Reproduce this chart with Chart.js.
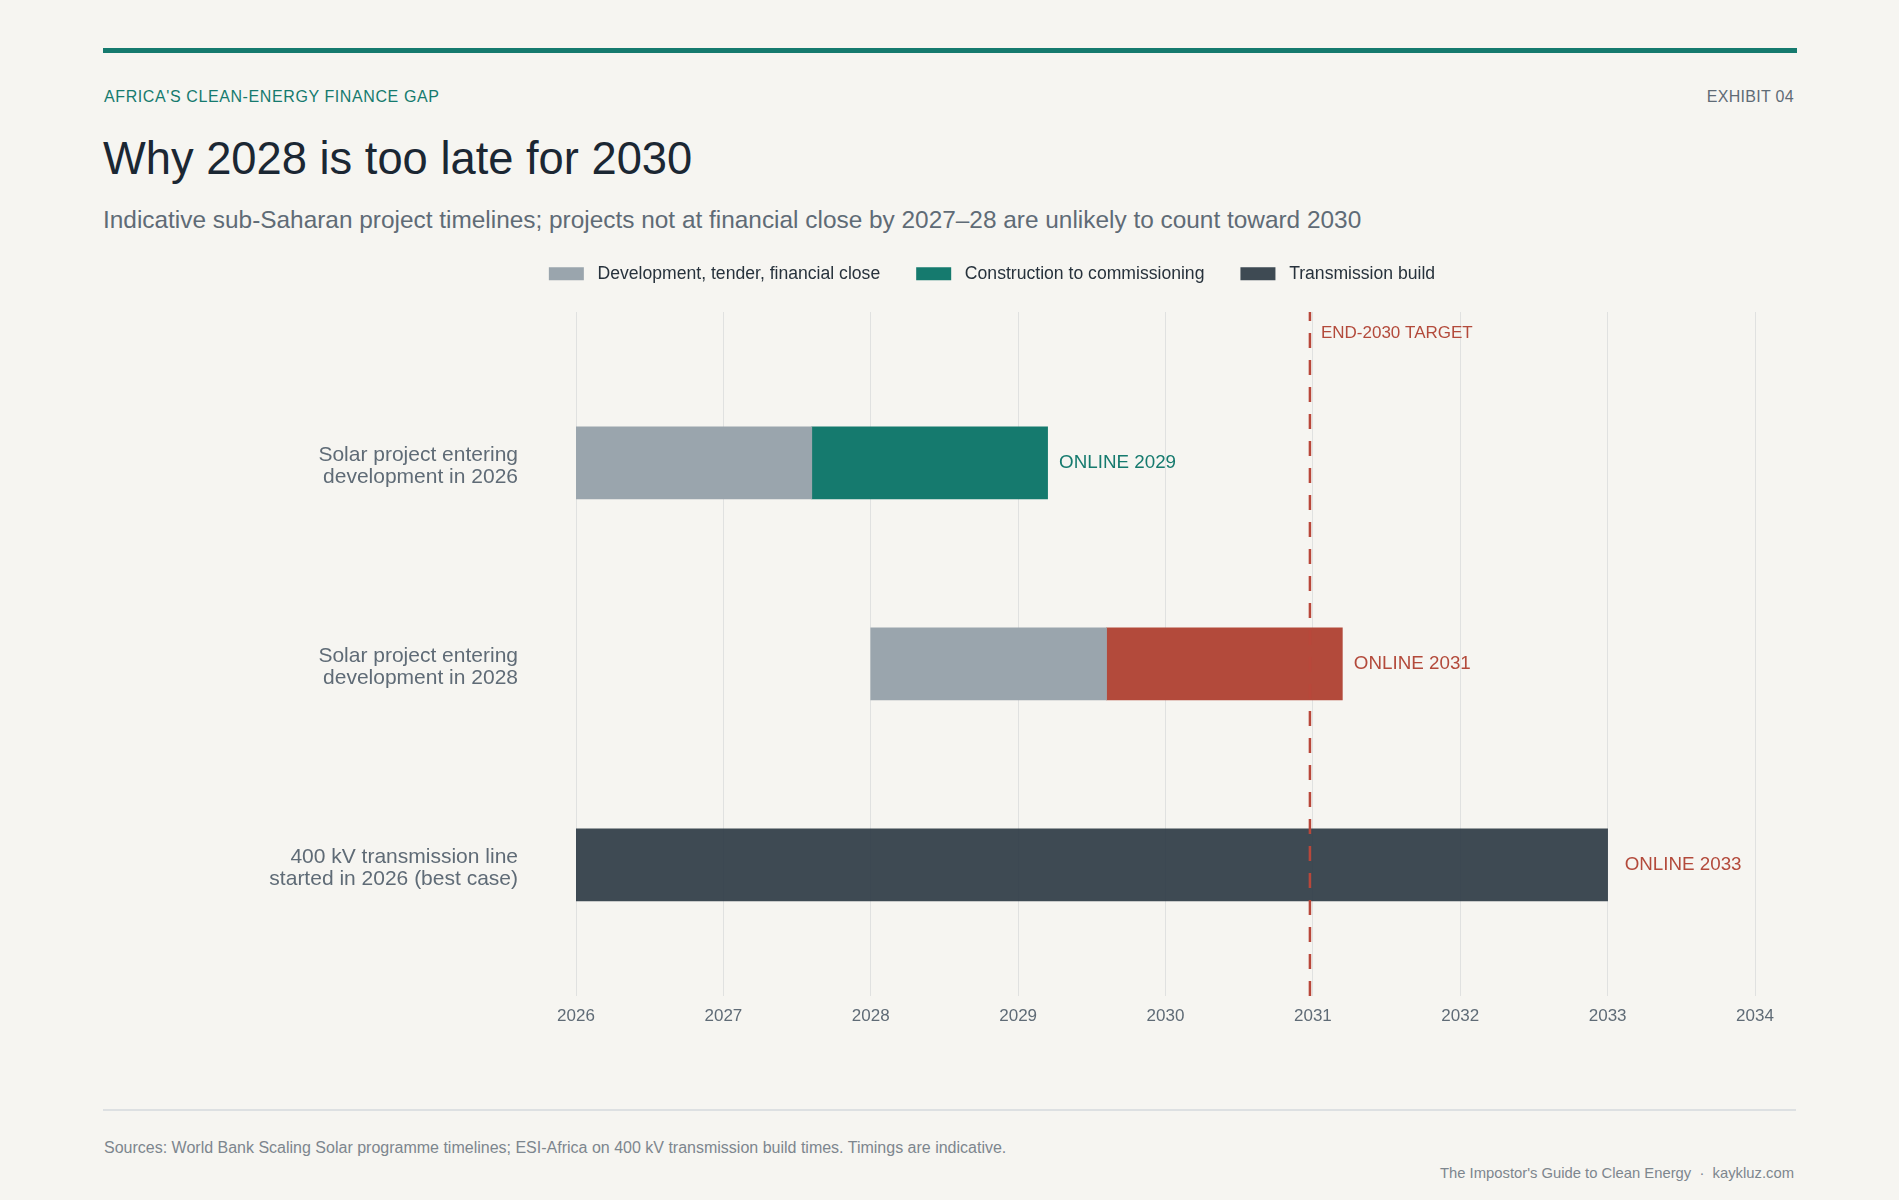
<!DOCTYPE html>
<html><head><meta charset="utf-8">
<script src="https://cdn.jsdelivr.net/npm/chart.js@4.4.1/dist/chart.umd.min.js"></script>
<style>
html,body{margin:0;padding:0;background:#f6f5f1;}
body{width:1899px;height:1200px;position:relative;overflow:hidden;font-family:'Liberation Sans',Arial,Helvetica,sans-serif;}
.abs{position:absolute;white-space:nowrap;line-height:1;}
#rule{position:absolute;left:103px;top:48px;width:1694px;height:5px;background:#157a6e;}
#kicker{left:104px;top:88.5px;font-size:16px;color:#157a6e;letter-spacing:0.6px;}
#exhibit{right:105px;top:88.5px;font-size:16px;color:#5f6b76;letter-spacing:0.3px;}
#title{left:103px;top:136px;font-size:45.3px;color:#1b2733;}
#subtitle{left:103px;top:207.6px;font-size:24.4px;color:#5f6b76;}
#chartbox{position:absolute;left:0;top:229px;width:1795px;height:807px;}
#divider{position:absolute;left:103px;top:1109px;width:1693px;height:1.5px;background:#dde0e2;}
#sources{left:104px;top:1139.5px;font-size:16px;color:#7d868e;}
#credit{right:105px;top:1166.3px;font-size:14.8px;color:#7d868e;white-space:pre;}
</style>
</head>
<body>
<div id="rule"></div>
<div id="kicker" class="abs">AFRICA'S CLEAN-ENERGY FINANCE GAP</div>
<div id="exhibit" class="abs">EXHIBIT 04</div>
<div id="title" class="abs">Why 2028 is too late for 2030</div>
<div id="subtitle" class="abs">Indicative sub-Saharan project timelines; projects not at financial close by 2027–28 are unlikely to count toward 2030</div>
<div id="chartbox"><canvas id="c"></canvas></div>
<div id="divider"></div>
<div id="sources" class="abs">Sources: World Bank Scaling Solar programme timelines; ESI-Africa on 400 kV transmission build times. Timings are indicative.</div>
<div id="credit" class="abs">The Impostor's Guide to Clean Energy  ·  kaykluz.com</div>
<script>
// ---- data ----
const categories = [
  ['Solar project entering', 'development in 2026'],
  ['Solar project entering', 'development in 2028'],
  ['400 kV transmission line', 'started in 2026 (best case)']
];
const seriesNames = ['Development, tender, financial close', 'Construction to commissioning', 'Transmission build'];
const devStart = [2026, 2028, null];
const devEnd = [2027.6, 2029.6, null];
const buildEnd = [2029.2, 2031.2, null];
const lineStart = [null, null, 2026];
const lineEnd = [null, null, 2033];
const onlineLabels = ['ONLINE 2029', 'ONLINE 2031', 'ONLINE 2033'];
const yearTicks = [2026, 2027, 2028, 2029, 2030, 2031, 2032, 2033, 2034];
const targetYear = 2030.98;
const targetLabel = 'END-2030 TARGET';

// ---- style ----
const FONT = "'Liberation Sans', Arial, Helvetica, sans-serif";
const GRAY = '#9aa5ad';
const TEAL = '#157a6e';
const RED = '#b34a3b';
const DARK = 'rgba(46,59,69,0.92)';
const RED_LINE = '#b8473a';
const LEGEND_GAP = 19.4;

Chart.defaults.font.family = FONT;

const devData = [], buildData = [], lineData = [];
categories.forEach((c, i) => {
  if (devStart[i] != null) devData.push({y: i, x: [devStart[i], devEnd[i]]});
  if (buildEnd[i] != null) buildData.push({y: i, x: [devEnd[i], buildEnd[i]]});
  if (lineStart[i] != null) lineData.push({y: i, x: [lineStart[i], lineEnd[i]]});
});

const legendGap = {
  id: 'legendGap',
  beforeLayout(chart) {
    const lg = chart.legend;
    if (lg && !lg._gapPatched) {
      const fit = lg.fit;
      lg.fit = function () { fit.call(this); this.height += LEGEND_GAP; };
      lg._gapPatched = true;
    }
  }
};

const overlay = {
  id: 'overlay',
  afterDatasetsDraw(chart) {
    const {ctx, chartArea, scales: {x, y}} = chart;
    const tx = x.getPixelForValue(targetYear);
    ctx.save();
    ctx.strokeStyle = RED_LINE;
    ctx.lineWidth = 2.5;
    ctx.setLineDash([15, 12]);
    ctx.beginPath();
    ctx.moveTo(tx, chartArea.bottom);
    ctx.lineTo(tx, chartArea.top);
    ctx.stroke();
    ctx.setLineDash([]);
    ctx.fillStyle = RED;
    ctx.font = '17px ' + FONT;
    ctx.textAlign = 'left';
    ctx.textBaseline = 'alphabetic';
    ctx.fillText(targetLabel, tx + 11, chartArea.top + 26);
    ctx.font = '18.8px ' + FONT;
    ctx.textBaseline = 'middle';
    categories.forEach((c, i) => {
      const ends = [buildEnd[i], lineEnd[i]].filter(v => v != null);
      const end = Math.max(...ends);
      ctx.fillStyle = end > targetYear ? RED : TEAL;
      const gap = lineEnd[i] != null ? 17 : 11.5;
      ctx.fillText(onlineLabels[i], x.getPixelForValue(end) + gap, y.getPixelForValue(i));
    });
    ctx.restore();
  }
};

new Chart(document.getElementById('c'), {
  type: 'bar',
  data: {
    datasets: [
      {label: seriesNames[0], data: devData, backgroundColor: GRAY},
      {label: seriesNames[1], data: buildData,
       backgroundColor: ctx => (ctx.raw && ctx.raw.x[1] > targetYear) ? RED : TEAL},
      {label: seriesNames[2], data: lineData, backgroundColor: DARK}
    ]
  },
  options: {
    indexAxis: 'y',
    responsive: true,
    maintainAspectRatio: false,
    animation: false,
    devicePixelRatio: 1,
    datasets: {bar: {grouped: false, barThickness: 72, maxBarThickness: 72, borderWidth: 0, borderSkipped: false}},
    layout: {padding: {left: 229, right: 40, top: 0, bottom: 0}},
    plugins: {
      legend: {
        position: 'top', align: 'center',
        labels: {
          boxWidth: 35, boxHeight: 13, padding: 36, color: '#27323c', font: {size: 17.6},
          generateLabels: chart => Chart.defaults.plugins.legend.labels.generateLabels(chart)
            .map(l => Object.assign(l, {text: ' ' + l.text}))
        }
      },
      tooltip: {enabled: false}
    },
    scales: {
      x: {
        type: 'linear', position: 'bottom', min: 2026, max: 2034,
        afterBuildTicks: axis => { axis.ticks = yearTicks.map(v => ({value: v})); },
        ticks: {callback: v => String(v), color: '#5f6b76', font: {size: 17}, padding: 10, maxRotation: 0, autoSkip: false},
        grid: {color: '#e0e1e0', lineWidth: 1, drawTicks: false},
        border: {display: false},
        afterFit: s => { s.height = 40; }
      },
      y: {
        type: 'linear', position: 'left', reverse: true, min: -0.751, max: 2.652, offset: false,
        afterBuildTicks: axis => { axis.ticks = categories.map((c, i) => ({value: i})); },
        ticks: {callback: v => categories[v], color: '#5f6b76', font: {size: 21, lineHeight: 1.05}, padding: 58, labelOffset: 3.5, autoSkip: false},
        grid: {display: false, drawTicks: false, offset: false},
        border: {display: false},
        afterFit: s => { s.width = 347; s.paddingTop = 0; s.paddingBottom = 0; }
      }
    }
  },
  plugins: [legendGap, overlay]
});
</script>
</body></html>
